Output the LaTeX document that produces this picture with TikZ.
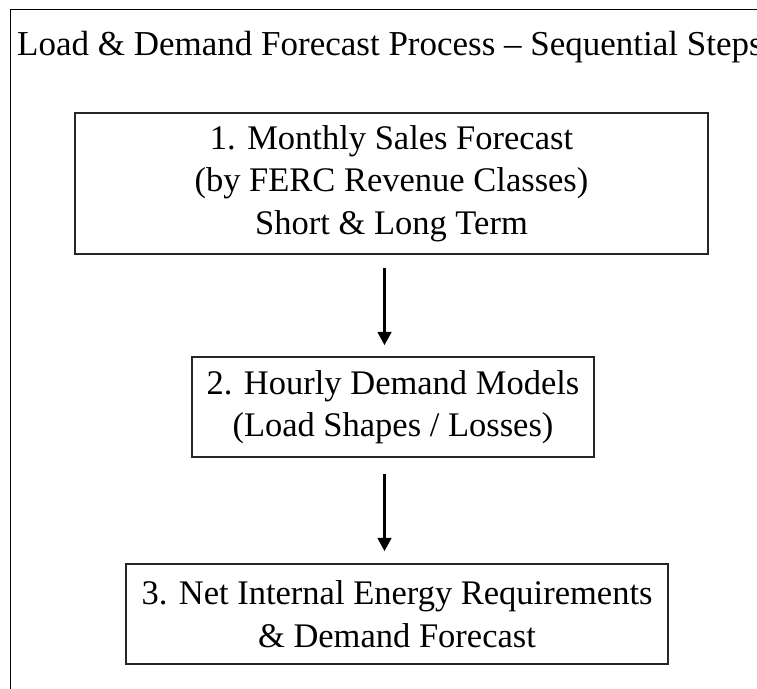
\documentclass[tikz,border=0pt]{standalone}
\usepackage{fontspec}
\setmainfont{Liberation Serif}
\usetikzlibrary{arrows.meta}
\begin{document}
\begin{tikzpicture}[x=1pt,y=-1pt,
  stepbox/.style={draw=black!85, line width=1.4pt, align=center, inner sep=0pt,
    font=\fontsize{34.5}{42.5}\selectfont},
  flow/.style={line width=3.2pt, -{Triangle[width=13.5pt,length=13.5pt]}}]
\useasboundingbox (0,0) rectangle (757,688);
\clip (0,0) rectangle (757,688);
% outer frame, running past the page on the right and at the bottom
\draw[line width=1.6pt] (10.6,720) -- (10.6,9.5) -- (800,9.5);
\node[anchor=base west, inner sep=0pt, font=\fontsize{35}{42}\selectfont] (title) at (17,55)
  {Load \& Demand Forecast Process -- Sequential Steps};
\node[stepbox, minimum width=633pt, minimum height=141pt] (s1) at (391.5,183.5)
  {1. Monthly Sales Forecast\\(by FERC Revenue Classes)\\Short \& Long Term};
\node[stepbox, minimum width=402pt, minimum height=100pt] (s2) at (393,407)
  {2. Hourly Demand Models\\(Load Shapes / Losses)};
\node[stepbox, minimum width=542pt, minimum height=100pt] (s3) at (397,614)
  {3. Net Internal Energy Requirements\\\& Demand Forecast};
\coordinate (ax) at (384.5,0);
\draw[flow, shorten <=13pt, shorten >=11pt] (s1.south -| ax) -- (s2.north -| ax);
\draw[flow, shorten <=16pt, shorten >=12pt] (s2.south -| ax) -- (s3.north -| ax);
\end{tikzpicture}
\end{document}
